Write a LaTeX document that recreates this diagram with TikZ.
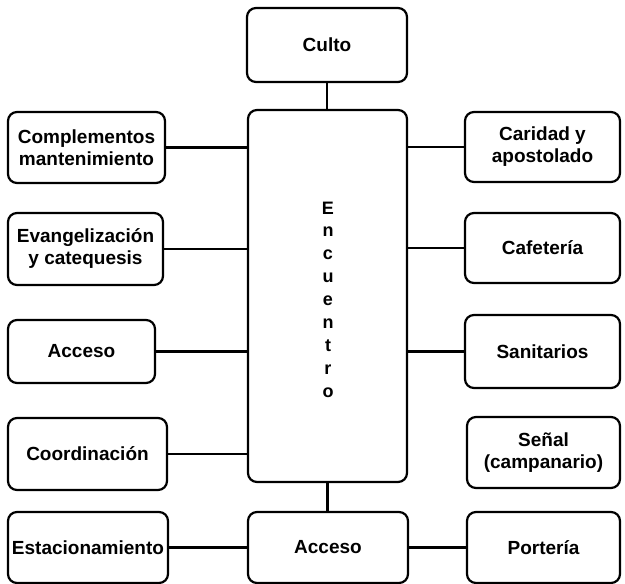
\documentclass[tikz,border=0pt]{standalone}
\usepackage{fontspec}
\setmainfont{Liberation Sans}
\begin{document}
\begin{tikzpicture}[x=1pt,y=1pt,
  box/.style={draw=black, line width=2.2pt, rounded corners=9pt, inner sep=0pt,
    align=center, font=\bfseries\fontsize{19}{22}\selectfont},
  conn/.style={draw=black, line width=2.2pt}]
\useasboundingbox (0,0) rectangle (625,584);
\node[box, minimum width=160pt, minimum height=74pt] (culto) at (327,539) {Culto};
\node[box, minimum width=159pt, minimum height=372pt] (enc) at (327.5,288) {};
\node[font=\bfseries\fontsize{18}{22.9}\selectfont, align=center, inner sep=0pt] (enctxt) at (328,284.5)
  {E\\n\\c\\u\\e\\n\\t\\r\\o};
% left column
\node[box, minimum width=157pt, minimum height=71pt] (comp) at (86.5,436.5) {Complementos\\mantenimiento};
\node[box, minimum width=155pt, minimum height=72pt] (evan) at (85.5,335) {Evangelización\\y catequesis};
\node[box, minimum width=147pt, minimum height=63pt] (accl) at (81.5,232.5) {Acceso};
\node[box, minimum width=159pt, minimum height=72pt] (coord) at (87.5,130) {Coordinación};
\node[box, minimum width=160pt, minimum height=71pt] (estac) at (88,36.5) {Estacionamiento};
% bottom center
\node[box, minimum width=160pt, minimum height=71pt] (accb) at (328,36.5) {Acceso};
% right column
\node[box, minimum width=155pt, minimum height=70pt] (carid) at (542.5,437) {Caridad y\\apostolado};
\node[box, minimum width=155pt, minimum height=70pt] (cafe) at (542.5,336) {Cafetería};
\node[box, minimum width=155pt, minimum height=73pt] (sanit) at (542.5,232.5) {Sanitarios};
\node[box, minimum width=153pt, minimum height=71pt] (senal) at (543.5,131.5) {Señal\\(campanario)};
\node[box, minimum width=153pt, minimum height=71pt] (port) at (543.5,36.5) {Portería};
% connectors
\draw[conn] (culto.south) -- (culto.south |- enc.north);
\draw[conn] (enc.south) -- (enc.south |- accb.north);
\draw[conn] (comp.east) -- (comp.east -| enc.west);
\draw[conn] (evan.east) -- (evan.east -| enc.west);
\draw[conn] (accl.east) -- (accl.east -| enc.west);
\draw[conn] (coord.east) -- (coord.east -| enc.west);
\draw[conn] (carid.west) -- (carid.west -| enc.east);
\draw[conn] (cafe.west) -- (cafe.west -| enc.east);
\draw[conn] (sanit.west) -- (sanit.west -| enc.east);
\draw[conn] (estac.east) -- (accb.west);
\draw[conn] (accb.east) -- (port.west);
\end{tikzpicture}
\end{document}
